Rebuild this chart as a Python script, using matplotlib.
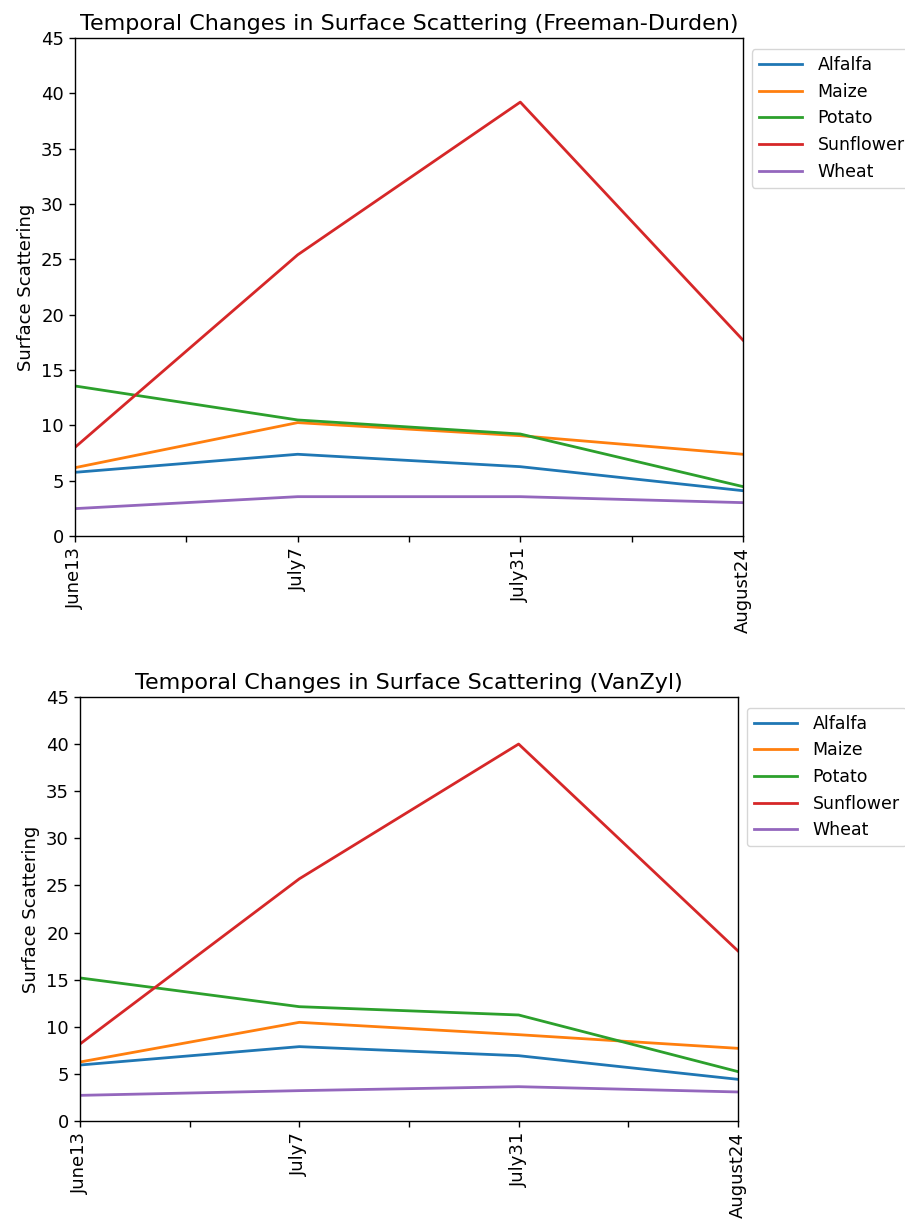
import matplotlib
matplotlib.use("Agg")
import matplotlib.pyplot as plt
from matplotlib.ticker import FixedLocator

dates = ["June13", "July7", "July31", "August24"]
crops = ["Alfalfa", "Maize", "Potato", "Sunflower", "Wheat"]

# Freeman-Durden surface scattering
fd_alfalfa = [5.75, 7.38, 6.26, 4.09]
fd_maize = [6.17, 10.24, 9.06, 7.38]
fd_potato = [13.55, 10.48, 9.21, 4.46]
fd_sunflower = [8.01, 25.4, 39.2, 17.7]
fd_wheat = [2.47, 3.55, 3.55, 3.01]

# VanZyl surface scattering
vz_alfalfa = [5.94, 7.89, 6.93, 4.42]
vz_maize = [6.26, 10.47, 9.16, 7.71]
vz_potato = [15.18, 12.13, 11.25, 5.24]
vz_sunflower = [8.17, 25.7, 40.0, 18.05]
vz_wheat = [2.72, 3.22, 3.64, 3.08]

colors = ["#1f77b4", "#ff7f0e", "#2ca02c", "#d62728", "#9467bd"]

fig = plt.figure(figsize=(9.05, 12.27), dpi=100)
ax1 = fig.add_axes([0.0829, 0.5632, 0.738, 0.4059])
ax2 = fig.add_axes([0.0884, 0.0864, 0.727, 0.3456])

panels = [
    (ax1, [fd_alfalfa, fd_maize, fd_potato, fd_sunflower, fd_wheat],
     "Temporal Changes in Surface Scattering (Freeman-Durden)"),
    (ax2, [vz_alfalfa, vz_maize, vz_potato, vz_sunflower, vz_wheat],
     "Temporal Changes in Surface Scattering (VanZyl)"),
]

x = list(range(len(dates)))
for ax, series, title in panels:
    for name, vals, c in zip(crops, series, colors):
        ax.plot(x, vals, color=c, lw=2.0, label=name)
    ax.set_xlim(0, 3)
    ax.set_ylim(0, 45)
    ax.set_xticks(x)
    ax.set_xticklabels(dates, rotation=90, fontsize=13)
    ax.xaxis.set_minor_locator(FixedLocator([0.5, 1.5, 2.5]))
    ax.tick_params(axis="both", which="both", length=4.5, width=1.0)
    ax.set_yticks(range(0, 46, 5))
    ax.tick_params(axis="y", labelsize=13)
    for sp in ax.spines.values():
        sp.set_linewidth(1.0)
    ax.set_ylabel("Surface Scattering", fontsize=13)
    ax.set_title(title, fontsize=16)
    ax.legend(loc="upper left", bbox_to_anchor=(1.0, 0.995), fontsize=12.5,
              handlelength=2.5, handletextpad=0.9)

fig.savefig("out.png", dpi=100)
